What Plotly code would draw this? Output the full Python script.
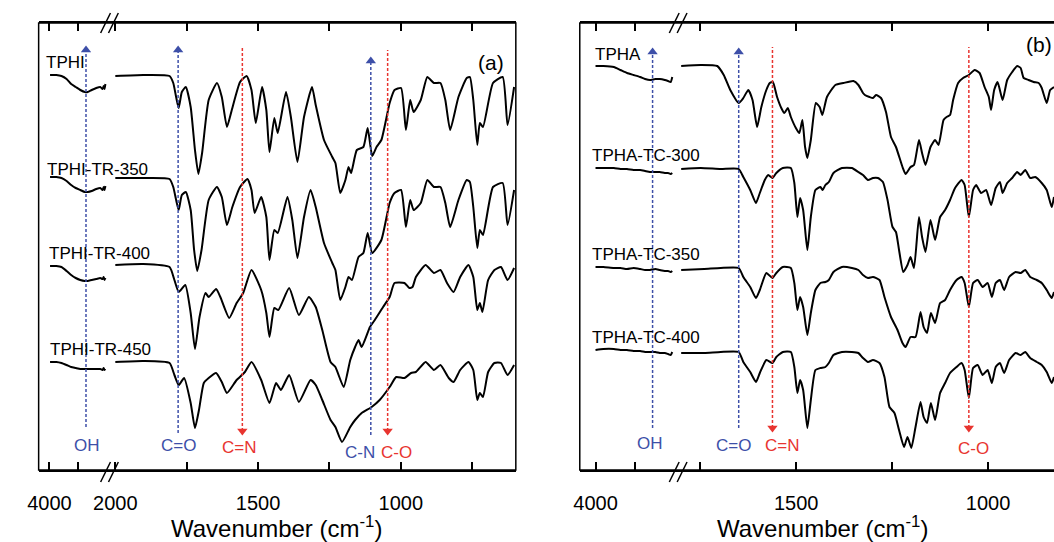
import plotly.graph_objects as go

W, H = 1054, 542
FONT = "Arial, 'Liberation Sans', sans-serif"
BLUE = "#3d4fa8"
RED = "#e8342f"

# ---------------- Panel (a): high-wavenumber segment (shared grid) ----------------
a_hi_wn = [3990, 3880, 3790, 3700, 3620, 3540, 3460, 3380, 3330, 3260, 3180, 3110, 3070, 3050, 3035, 3020]
tphi_hi = [395, 395, 394, 391, 386, 383, 380, 378, 378, 380, 382, 383, 381, 384, 381, 386]
tphi350_hi = [293, 293, 292, 289, 285, 282, 280, 278, 278, 279, 281, 282, 280, 283, 280, 284]
tphi400_hi = [204, 204, 203, 199, 195, 192, 190, 189, 189, 190, 191, 192, 191, 193, 190, 192]
tphi450_hi = [108, 108, 107, 105, 103, 102, 101, 101, 101, 101, 101, 101, 100, 102, 100, 101]

# ---------------- Panel (a): fingerprint segment ----------------
tphi_wn = [2000, 1902, 1810, 1797, 1787, 1778, 1767, 1753, 1736, 1721, 1709, 1696, 1673, 1644, 1627,
           1609, 1592, 1563, 1540, 1523, 1508, 1486, 1471, 1460, 1443, 1431, 1402, 1385, 1362, 1339,
           1311, 1298, 1269, 1240, 1229, 1212, 1194, 1183, 1174, 1154, 1131, 1116, 1100, 1085, 1068,
           1039, 1022, 999, 982, 967, 955, 930, 907, 884, 861, 844, 827, 798, 769, 758, 746, 732, 723,
           712, 677, 643, 626, 603]
tphi_t = [394, 395, 394, 387, 373, 362, 378, 383, 363, 320, 296, 317, 370, 387, 373,
          343, 360, 388, 394, 380, 347, 383, 360, 318, 352, 337, 378, 353, 308, 353,
          383, 365, 330, 313, 307, 277, 290, 303, 297, 320, 323, 342, 314, 323, 330,
          367, 380, 382, 340, 370, 358, 370, 393, 387, 387, 370, 340, 373, 392, 393, 370, 325, 347,
          343, 387, 393, 345, 383]

tphi350_wn = [2000, 1902, 1810, 1797, 1787, 1778, 1767, 1753, 1736, 1724, 1713, 1698, 1673, 1644, 1627,
              1609, 1590, 1563, 1537, 1523, 1512, 1489, 1471, 1460, 1443, 1431, 1397, 1380, 1362, 1339,
              1316, 1298, 1269, 1240, 1229, 1212, 1194, 1183, 1171, 1148, 1131, 1116, 1100, 1068,
              1039, 1022, 999, 982, 967, 955, 930, 907, 884, 861, 844, 827, 798, 769, 758, 746, 732, 723,
              712, 677, 643, 626, 603]
tphi350_t = [292, 292, 291, 283, 270, 260, 275, 278, 260, 220, 199, 220, 270, 283, 273,
             245, 263, 283, 291, 280, 257, 273, 253, 210, 240, 237, 273, 250, 212, 253,
             280, 263, 227, 207, 200, 170, 183, 193, 190, 213, 217, 237, 217, 230,
             267, 277, 280, 243, 270, 260, 267, 290, 283, 283, 267, 243, 270, 290, 288, 263, 222, 240,
             235, 283, 287, 245, 280]

tphi400_wn = [2000, 1902, 1810, 1793, 1778, 1755, 1736, 1721, 1705, 1684, 1673, 1647, 1632, 1601, 1575,
              1552, 1523, 1489, 1471, 1460, 1443, 1429, 1391, 1357, 1322, 1298, 1275, 1246, 1229, 1200,
              1177, 1160, 1148, 1137, 1108, 1091, 1062, 1039, 1022, 987, 970, 959, 947, 913, 884, 861,
              838, 815, 792, 763, 746, 732, 723, 714, 694, 672, 649, 626, 603]
tphi400_t = [205, 206, 203, 190, 178, 185, 157, 121, 153, 177, 173, 181, 173, 152, 167,
             177, 200, 180, 157, 133, 162, 160, 182, 155, 173, 163, 140, 108, 103, 83,
             110, 123, 130, 123, 143, 150, 163, 173, 187, 187, 182, 183, 193, 205, 197, 200,
             187, 178, 193, 205, 193, 160, 167, 158, 190, 200, 203, 190, 202]

tphi450_wn = [2000, 1902, 1810, 1793, 1778, 1759, 1736, 1721, 1707, 1690, 1673, 1647, 1627, 1609, 1575,
              1546, 1523, 1489, 1460, 1437, 1420, 1391, 1357, 1316, 1298, 1275, 1246, 1229, 1206,
              1177, 1160, 1137, 1102, 1074, 1039, 1016, 987, 964, 947, 913, 884, 861, 832, 815, 792,
              763, 746, 732, 723, 712, 694, 672, 649, 626, 603]
tphi450_t = [108, 109, 107, 95, 85, 92, 67, 42, 60, 87, 92, 97, 88, 77, 90,
             98, 108, 90, 67, 87, 80, 95, 68, 90, 85, 70, 50, 43, 28,
             43, 50, 57, 63, 70, 83, 93, 92, 97, 98, 108, 100, 105, 92, 88, 100,
             108, 100, 70, 77, 73, 98, 107, 107, 95, 105]

# ---------------- Panel (b): high-wavenumber segment ----------------
b_hi_wn = [4000, 3900, 3767, 3683, 3600, 3517, 3433, 3370, 3308, 3240, 3183, 3120, 3079, 3045, 3025]
tpha_hi = [404, 404, 403, 400, 397, 395, 393, 391, 390, 391, 391, 390, 389, 388, 393]
tc300_hi = [302, 302, 302, 301, 301, 300, 300, 299, 298, 298, 298, 297, 297, 296, 297]
tc350_hi = [203, 203, 202, 202, 201, 202, 201, 200, 200, 201, 200, 199, 199, 198, 199]
tc400_hi = [120, 121, 121, 120, 120, 119, 119, 118, 118, 118, 117, 117, 116, 115, 118]

# ---------------- Panel (b): fingerprint segment ----------------
tpha_wn = [1800, 1749, 1706, 1689, 1672, 1650, 1638, 1625, 1614, 1602, 1591, 1578, 1569, 1561, 1550,
           1539, 1531, 1522, 1514, 1501, 1492, 1484, 1477, 1471, 1462, 1449, 1439, 1432, 1420, 1398,
           1377, 1351, 1338, 1326, 1321, 1309, 1300, 1292, 1279, 1266, 1253, 1240, 1223, 1215, 1202,
           1193, 1180, 1172, 1163, 1150, 1138, 1129, 1116, 1108, 1099, 1091, 1078, 1065, 1050, 1035,
           1022, 1009, 998, 992, 984, 975, 962, 950, 937, 924, 915, 907, 894, 881, 868, 860, 847, 838, 828]
tpha_t = [404, 405, 404, 395, 380, 367, 372, 380, 370, 343, 363, 380, 387, 388, 373,
          362, 357, 362, 353, 342, 337, 350, 323, 312, 330, 367, 363, 355, 373, 385,
          387, 389, 385, 377, 375, 373, 372, 375, 372, 358, 333, 323, 303, 296, 303,
          305, 330, 317, 305, 323, 330, 325, 350, 353, 355, 370, 387, 392, 395, 400,
          397, 383, 373, 360, 380, 388, 370, 390, 398, 404, 402, 392, 390, 388, 387, 382, 367, 380, 383]

tc300_wn = [1800, 1749, 1697, 1650, 1638, 1620, 1605, 1595, 1582, 1573, 1562, 1552, 1535, 1514, 1505,
            1497, 1490, 1482, 1471, 1462, 1450, 1437, 1431, 1424, 1415, 1403, 1381, 1355, 1338, 1326,
            1313, 1300, 1287, 1274, 1262, 1249, 1240, 1232, 1221, 1210, 1202, 1193, 1180, 1172, 1163,
            1150, 1138, 1125, 1112, 1099, 1086, 1069, 1061, 1050, 1039, 1031, 1018, 1005, 992, 980,
            969, 962, 950, 937, 924, 915, 903, 890, 877, 860, 847, 834, 828]
tc300_t = [301, 302, 301, 301, 293, 280, 267, 277, 290, 295, 292, 297, 302, 302, 287,
           253, 272, 260, 220, 253, 280, 283, 280, 285, 288, 297, 302, 302, 298, 295,
           290, 292, 292, 288, 270, 243, 238, 220, 198, 205, 213, 202, 253, 233, 218,
           250, 230, 253, 260, 270, 282, 290, 285, 253, 280, 285, 277, 280, 265, 282,
           288, 277, 287, 292, 298, 295, 300, 292, 293, 287, 280, 263, 273]

tc350_wn = [1800, 1740, 1697, 1650, 1638, 1620, 1605, 1595, 1578, 1562, 1552, 1535, 1514, 1505, 1497,
            1490, 1482, 1471, 1462, 1450, 1437, 1424, 1415, 1403, 1381, 1355, 1338, 1326, 1313, 1300,
            1283, 1270, 1253, 1236, 1223, 1215, 1202, 1189, 1176, 1168, 1159, 1149, 1138, 1125, 1112,
            1099, 1082, 1069, 1061, 1050, 1039, 1027, 1014, 1001, 990, 980, 969, 958, 945, 928, 915,
            903, 890, 873, 860, 847, 834, 828]
tc350_t = [200, 201, 202, 202, 193, 183, 172, 180, 197, 192, 197, 203, 202, 187, 160,
           173, 163, 135, 157, 180, 187, 188, 190, 198, 203, 202, 200, 195, 192, 193,
           190, 173, 153, 140, 127, 123, 133, 133, 158, 143, 137, 157, 147, 167, 170,
           180, 190, 193, 187, 163, 187, 190, 183, 187, 173, 187, 190, 180, 193, 198, 197,
           200, 193, 190, 187, 180, 172, 178]

tc400_wn = [1800, 1740, 1697, 1650, 1638, 1620, 1605, 1595, 1578, 1562, 1552, 1535, 1514, 1505, 1497,
            1490, 1482, 1471, 1462, 1450, 1437, 1424, 1415, 1403, 1381, 1355, 1338, 1326, 1313, 1300,
            1283, 1270, 1257, 1244, 1232, 1219, 1210, 1200, 1189, 1176, 1168, 1159, 1149, 1138, 1125,
            1112, 1099, 1082, 1069, 1061, 1050, 1039, 1027, 1014, 1001, 990, 980, 969, 958, 945, 928,
            915, 903, 890, 873, 860, 847, 834, 828]
tc400_t = [117, 117, 118, 118, 108, 98, 88, 97, 110, 107, 113, 118, 118, 103, 77,
           90, 80, 42, 70, 100, 102, 103, 107, 115, 118, 118, 117, 112, 108, 110,
           107, 93, 63, 57, 40, 23, 33, 22, 43, 68, 53, 47, 67, 50, 77,
           87, 97, 103, 107, 100, 72, 102, 105, 95, 100, 87, 103, 107, 97, 110, 117,
           115, 118, 112, 108, 105, 98, 87, 93]

# ---------------- labels / band assignments / ticks ----------------
a_names = ["TPHI", "TPHI-TR-350", "TPHI-TR-400", "TPHI-TR-450"]
b_names = ["TPHA", "TPHA-TC-300", "TPHA-TC-350", "TPHA-TC-400"]
a_bands = ["OH", "C=O", "C=N", "C-N", "C-O"]
a_band_wn = [3360, 1780, 1555, 1105, 1046]
a_band_dir = ["up", "up", "down", "up", "down"]
b_bands = ["OH", "C=O", "C=N", "C-O"]
b_band_wn = [3275, 1650, 1562, 1050]
b_band_dir = ["up", "up", "down", "down"]

hi_major = [4000]
hi_minor = [3500]
a_lo_major = [2000, 1500, 1000]
a_lo_minor = [1750, 1250, 750]
b_lo_major = [1500, 1000]
b_lo_minor = [1750, 1250]


def fx(px):
    return px / W


def fy(py):
    return 1 - py / H


fig = go.Figure()

spec_line = dict(color="black", width=2, shape="spline", smoothing=0.5)

a_sets = [
    (a_hi_wn, tphi_hi, tphi_wn, tphi_t),
    (a_hi_wn, tphi350_hi, tphi350_wn, tphi350_t),
    (a_hi_wn, tphi400_hi, tphi400_wn, tphi400_t),
    (a_hi_wn, tphi450_hi, tphi450_wn, tphi450_t),
]
b_sets = [
    (b_hi_wn, tpha_hi, tpha_wn, tpha_t),
    (b_hi_wn, tc300_hi, tc300_wn, tc300_t),
    (b_hi_wn, tc350_hi, tc350_wn, tc350_t),
    (b_hi_wn, tc400_hi, tc400_wn, tc400_t),
]
for name, (hw, ht, lw, lt) in zip(a_names, a_sets):
    fig.add_trace(go.Scatter(x=hw, y=ht, xaxis="x", yaxis="y", mode="lines", line=spec_line,
                             name=name, showlegend=False, hoverinfo="skip"))
    fig.add_trace(go.Scatter(x=lw, y=lt, xaxis="x2", yaxis="y", mode="lines", line=spec_line,
                             name=name, showlegend=False, hoverinfo="skip"))
for name, (hw, ht, lw, lt) in zip(b_names, b_sets):
    fig.add_trace(go.Scatter(x=hw, y=ht, xaxis="x3", yaxis="y", mode="lines", line=spec_line,
                             name=name, showlegend=False, hoverinfo="skip"))
    fig.add_trace(go.Scatter(x=lw, y=lt, xaxis="x4", yaxis="y", mode="lines", line=spec_line,
                             name=name, showlegend=False, hoverinfo="skip"))


def band_lines(wns, dirs, axes_for, tops, bottoms):
    for wn, d, top, bot in zip(wns, dirs, tops, bottoms):
        ax = axes_for(wn)
        col = BLUE if d == "up" else RED
        fig.add_trace(go.Scatter(x=[wn, wn], y=[bot, top], xaxis=ax, yaxis="y", mode="lines",
                                 line=dict(color=col, width=1.5, dash="3px,2px"),
                                 showlegend=False, hoverinfo="skip"))
        sym = "triangle-up" if d == "up" else "triangle-down"
        fig.add_trace(go.Scatter(x=[wn], y=[top if d == "up" else bot], xaxis=ax, yaxis="y",
                                 mode="markers", marker=dict(symbol=sym, size=9, color=col),
                                 showlegend=False, hoverinfo="skip"))


band_lines(a_band_wn, a_band_dir, lambda w: "x" if w > 2500 else "x2",
           [420, 420, 423, 409, 420], [43, 37, 39, 35, 39])
band_lines(b_band_wn, b_band_dir, lambda w: "x3" if w > 2500 else "x4",
           [418, 418, 423, 423], [42, 42, 42, 42])

axis_common = dict(
    ticks="inside", ticklen=8, tickwidth=1.5, tickcolor="black",
    showline=True, linecolor="black", linewidth=1.5, mirror="ticks",
    showgrid=False, zeroline=False, anchor="y", fixedrange=True,
    tickfont=dict(family=FONT, size=20, color="black"), ticklabelstandoff=14,
)
minor_common = dict(ticks="inside", ticklen=8, tickwidth=1.5, tickcolor="black", showgrid=False)

fig.update_layout(
    width=W, height=H,
    margin=dict(l=0, r=0, t=0, b=0),
    paper_bgcolor="white", plot_bgcolor="white",
    xaxis=dict(domain=[fx(22), fx(95)], range=[4190, 2931], tickmode="array",
               tickvals=hi_major, minor=dict(tickvals=hi_minor, **minor_common), **axis_common),
    xaxis2=dict(domain=[fx(95), fx(507)], range=[2017, 597], tickmode="array",
                tickvals=a_lo_major, minor=dict(tickvals=a_lo_minor, **minor_common), **axis_common),
    xaxis3=dict(domain=[fx(572), fx(670)], range=[4200, 2975], tickmode="array",
                tickvals=hi_major, minor=dict(tickvals=hi_minor, **minor_common), **axis_common),
    xaxis4=dict(domain=[fx(670), 1.0], range=[1813, 828], tickmode="array",
                tickvals=b_lo_major, minor=dict(tickvals=b_lo_minor, **minor_common), **axis_common),
    yaxis=dict(domain=[fy(470), fy(23)], range=[0, 447], visible=False, fixedrange=True),
    showlegend=False,
)

shapes = []
# frames
shapes.append(dict(type="rect", xref="paper", yref="paper", x0=fx(22), x1=fx(507), y0=fy(470), y1=fy(23),
                   line=dict(color="black", width=1.5)))
shapes.append(dict(type="rect", xref="paper", yref="paper", x0=fx(572), x1=fx(1070), y0=fy(470), y1=fy(23),
                   line=dict(color="black", width=1.5)))
# axis break marks
for bx in (85, 663):
    for dx in (0, 8):
        for (ya, yb) in ((33, 13), (482, 462)):
            shapes.append(dict(type="line", xref="paper", yref="paper",
                               x0=fx(bx + dx), y0=fy(ya), x1=fx(bx + dx + 10), y1=fy(yb),
                               line=dict(color="black", width=1.5)))
fig.update_layout(shapes=shapes)

ann = []
for name, (px, py) in zip(a_names, [(27, 63), (28, 170), (30, 253), (32, 349)]):
    ann.append(dict(text=name, x=fx(px), y=fy(py), xanchor="left", yanchor="middle"))
for name, (px, py) in zip(b_names, [(585, 55), (582, 155), (582, 255), (582, 337)]):
    ann.append(dict(text=name, x=fx(px), y=fy(py), xanchor="left", yanchor="middle"))
for a in ann:
    a.update(xref="paper", yref="paper", showarrow=False, font=dict(family=FONT, size=17, color="black"))

band_ann = []
for lab, d, (px, py) in zip(a_bands, a_band_dir, [(71, 445), (164, 445), (226, 447), (349, 452), (386, 452)]):
    band_ann.append(dict(text=lab, x=fx(px), y=fy(py), font=dict(family=FONT, size=17, color=BLUE if d == "up" else RED)))
for lab, d, (px, py) in zip(b_bands, b_band_dir, [(643, 443), (728, 445), (778, 445), (972, 448)]):
    band_ann.append(dict(text=lab, x=fx(px), y=fy(py), font=dict(family=FONT, size=17, color=BLUE if d == "up" else RED)))
for a in band_ann:
    a.update(xref="paper", yref="paper", showarrow=False, xanchor="center", yanchor="middle")

other = [
    dict(text="(a)", x=fx(482), y=fy(62), font=dict(family=FONT, size=21, color="black")),
    dict(text="(b)", x=fx(1039), y=fy(45), font=dict(family=FONT, size=21, color="black")),
    dict(text="Wavenumber (cm<sup>-1</sup>)", x=fx(264), y=fy(527), font=dict(family=FONT, size=24, color="black")),
    dict(text="Wavenumber (cm<sup>-1</sup>)", x=fx(819), y=fy(527), font=dict(family=FONT, size=24, color="black")),
]
for a in other:
    a.update(xref="paper", yref="paper", showarrow=False, xanchor="center", yanchor="middle")

fig.update_layout(annotations=ann + band_ann + other)

fig.write_html("out.html", config={"displayModeBar": False},
               post_script="document.body.style.margin='0px';document.body.style.overflow='hidden';")
